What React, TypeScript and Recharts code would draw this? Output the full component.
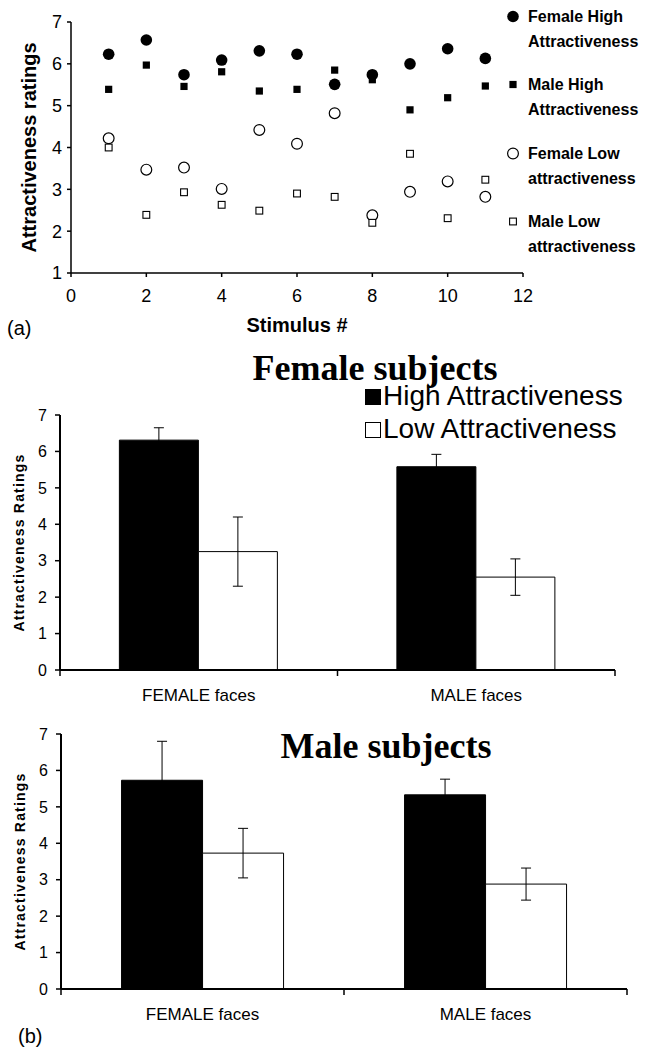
import React from 'react';
import {
  ScatterChart,
  Scatter,
  XAxis,
  YAxis,
  Legend,
  BarChart,
  Bar,
  ErrorBar,
} from 'recharts';

// ---------- (a) scatter data ----------
const stimulus = [1, 2, 3, 4, 5, 6, 7, 8, 9, 10, 11];
const femaleHigh = [6.23, 6.57, 5.74, 6.09, 6.31, 6.23, 5.51, 5.74, 6.0, 6.36, 6.13];
const maleHigh = [5.39, 5.97, 5.46, 5.81, 5.35, 5.39, 5.85, 5.62, 4.9, 5.19, 5.47];
const femaleLow = [4.22, 3.47, 3.52, 3.01, 4.42, 4.09, 4.82, 2.38, 2.94, 3.19, 2.82];
const maleLow = [4.0, 2.39, 2.93, 2.63, 2.49, 2.9, 2.82, 2.2, 3.85, 2.31, 3.23];
const scatterNames = [
  'Female High Attractiveness',
  'Male High Attractiveness',
  'Female Low attractiveness',
  'Male Low attractiveness',
];
const stimulusTicks = [0, 2, 4, 6, 8, 10, 12];
const ratingTicksA = [1, 2, 3, 4, 5, 6, 7];

// ---------- (b) bar data ----------
const faceCategories = ['FEMALE faces', 'MALE faces'];
const barNames = ['High Attractiveness', 'Low Attractiveness'];
const femaleSubjHigh = [6.31, 5.58];
const femaleSubjHighErr = [0.34, 0.34];
const femaleSubjLow = [3.25, 2.55];
const femaleSubjLowErr = [0.95, 0.5];
const maleSubjHigh = [5.73, 5.33];
const maleSubjHighErr = [1.07, 0.43];
const maleSubjLow = [3.73, 2.88];
const maleSubjLowErr = [0.68, 0.44];
const ratingTicksB = [0, 1, 2, 3, 4, 5, 6, 7];

const SANS = "'Liberation Sans', Arial, Helvetica, sans-serif";
const SERIF = "'Liberation Serif', 'Times New Roman', serif";

const scatterSeries = [femaleHigh, maleHigh, femaleLow, maleLow].map((vals) =>
  stimulus.map((s, i) => ({ x: s, y: vals[i] }))
);

const buildBarData = (hi: number[], hiErr: number[], lo: number[], loErr: number[]) =>
  faceCategories.map((face, i) => ({
    face,
    high: hi[i],
    highErr: hiErr[i],
    low: lo[i],
    lowErr: loErr[i],
  }));

const femaleSubjectsData = buildBarData(femaleSubjHigh, femaleSubjHighErr, femaleSubjLow, femaleSubjLowErr);
const maleSubjectsData = buildBarData(maleSubjHigh, maleSubjHighErr, maleSubjLow, maleSubjLowErr);

// ---------- markers ----------
const FilledCircle = (p: any) => <circle cx={p.cx} cy={p.cy} r={5.8} fill="#000" />;
const FilledSquare = (p: any) => <rect x={p.cx - 3.6} y={p.cy - 3.6} width={7.2} height={7.2} fill="#000" />;
const OpenCircle = (p: any) => (
  <circle cx={p.cx} cy={p.cy} r={5.4} fill="#fff" stroke="#000" strokeWidth={1.2} />
);
const OpenSquare = (p: any) => (
  <rect x={p.cx - 3.4} y={p.cy - 3.4} width={6.8} height={6.8} fill="#fff" stroke="#000" strokeWidth={1.1} />
);
const scatterShapes = [FilledCircle, FilledSquare, OpenCircle, OpenSquare];

const ScatterLegend = (props: any) => {
  const payload = [...(props.payload || [])].sort(
    (a: any, b: any) => scatterNames.indexOf(String(a.value)) - scatterNames.indexOf(String(b.value))
  );
  return (
    <div style={{ position: 'relative', width: 142, height: 270, fontFamily: SANS }}>
      {payload.map((entry: any) => {
        const name: string = String(entry.value);
        const idx = Math.max(0, scatterNames.indexOf(name));
        const cut = name.lastIndexOf(' ');
        const line1 = name.slice(0, cut);
        const line2 = name.slice(cut + 1);
        const Shape = scatterShapes[idx];
        return (
          <div key={name} style={{ position: 'absolute', left: 0, top: idx * 68.3, width: 142, height: 50 }}>
            <svg width={16} height={25} style={{ position: 'absolute', left: 0, top: 0 }}>
              <Shape cx={7} cy={12.5} />
            </svg>
            <div
              style={{
                position: 'absolute',
                left: 22,
                top: 0,
                fontSize: 16,
                fontWeight: 'bold',
                lineHeight: '25px',
                color: '#000',
                whiteSpace: 'nowrap',
              }}
            >
              <div>{line1}</div>
              <div>{line2}</div>
            </div>
          </div>
        );
      })}
    </div>
  );
};

const BarLegend = (props: any) => {
  const payload = [...(props.payload || [])].sort(
    (a: any, b: any) => barNames.indexOf(String(a.value)) - barNames.indexOf(String(b.value))
  );
  return (
    <div style={{ position: 'relative', width: 270, height: 70, fontFamily: SANS }}>
      {payload.map((entry: any) => {
        const idx = Math.max(0, barNames.indexOf(String(entry.value)));
        return (
          <div key={String(entry.value)} style={{ position: 'absolute', left: 0, top: idx * 33, height: 33, width: 270 }}>
            <div
              style={{
                position: 'absolute',
                left: 0,
                top: 10,
                width: 14,
                height: 14,
                background: idx === 0 ? '#000' : '#fff',
                border: '1px solid #000',
              }}
            />
            <div
              style={{
                position: 'absolute',
                left: 18,
                top: 0,
                fontSize: 28,
                lineHeight: '33px',
                color: '#000',
                whiteSpace: 'nowrap',
              }}
            >
              {entry.value}
            </div>
          </div>
        );
      })}
    </div>
  );
};

const FaceTick = (props: any) => {
  const { x, y, payload, index, visibleTicksCount } = props;
  const half = payload && typeof payload.offset === 'number' ? payload.offset : 0;
  const last = index === (visibleTicksCount ?? faceCategories.length) - 1;
  return (
    <g>
      <line x1={x - half} x2={x - half} y1={y} y2={y + 6} stroke="#000" strokeWidth={1.5} />
      {last && <line x1={x + half} x2={x + half} y1={y} y2={y + 6} stroke="#000" strokeWidth={1.5} />}
      <text
        x={x}
        y={y + 25}
        textAnchor="middle"
        dominantBaseline="central"
        fontSize={17}
        fontFamily={SANS}
        fill="#000"
      >
        {payload.value}
      </text>
    </g>
  );
};

const rotatedYLabel = (text: string, dx: number, size: number, spacing: number) => (props: any) => {
  const vb = props.viewBox || { x: 0, y: 0, width: 0, height: 0 };
  const cx = vb.x + dx;
  const cy = vb.y + vb.height / 2;
  return (
    <text
      x={cx}
      y={cy}
      transform={`rotate(-90 ${cx} ${cy})`}
      textAnchor="middle"
      dominantBaseline="central"
      fontSize={size}
      fontWeight="bold"
      fontFamily={SANS}
      letterSpacing={spacing}
      fill="#000"
    >
      {text}
    </text>
  );
};

const stimulusLabel = (props: any) => {
  const vb = props.viewBox || { x: 0, y: 0, width: 0, height: 0 };
  return (
    <text
      x={vb.x + vb.width / 2}
      y={vb.y + 52}
      textAnchor="middle"
      dominantBaseline="central"
      fontSize={20}
      fontWeight="bold"
      fontFamily={SANS}
      fill="#000"
    >
      Stimulus #
    </text>
  );
};

const BarPanel = ({ data, height, margin, yWidth, showLegend }: any) => (
  <BarChart width={648} height={height} data={data} margin={margin} barCategoryGap="21.4%" barGap={0}>
    <XAxis
      dataKey="face"
      type="category"
      height={height - margin.top - 255}
      interval={0}
      tickLine={false}
      tickSize={0}
      tickMargin={0}
      tick={<FaceTick />}
      axisLine={{ stroke: '#000', strokeWidth: 2 }}
    />
    <YAxis
      type="number"
      domain={[0, 7]}
      ticks={ratingTicksB}
      interval={0}
      width={yWidth}
      tickSize={5}
      tickMargin={8}
      axisLine={{ stroke: '#000', strokeWidth: 2 }}
      tickLine={{ stroke: '#000', strokeWidth: 1.5 }}
      tick={{ fontSize: 16, fill: '#000', fontFamily: SANS }}
      label={rotatedYLabel('Attractiveness Ratings', yWidth - 41, 14, 1.2)}
    />
    <Bar dataKey="high" name={barNames[0]} fill="#000" stroke="#000" strokeWidth={1} isAnimationActive={false}>
      <ErrorBar dataKey="highErr" width={5} stroke="#000" strokeWidth={1} direction="y" />
    </Bar>
    <Bar dataKey="low" name={barNames[1]} fill="#fff" stroke="#000" strokeWidth={1} isAnimationActive={false}>
      <ErrorBar dataKey="lowErr" width={5} stroke="#000" strokeWidth={1} direction="y" />
    </Bar>
    {showLegend && (
      <Legend
        layout="vertical"
        align="center"
        verticalAlign="middle"
        content={<BarLegend />}
        wrapperStyle={{ left: 365, top: 39, width: 270 }}
      />
    )}
  </BarChart>
);

export default function App() {
  return (
    <div
      style={{
        position: 'absolute',
        left: 0,
        top: 0,
        width: 648,
        height: 1047,
        background: '#fff',
        overflow: 'hidden',
      }}
    >
      <div style={{ position: 'absolute', left: 0, top: 0 }}>
        <ScatterChart width={648} height={340} margin={{ top: 22, right: 125, left: 0, bottom: 0 }}>
          <XAxis
            type="number"
            dataKey="x"
            domain={[0, 12]}
            ticks={stimulusTicks}
            interval={0}
            height={67}
            tickSize={4}
            tickMargin={12}
            axisLine={{ stroke: '#000', strokeWidth: 1.5 }}
            tickLine={{ stroke: '#000', strokeWidth: 1.5 }}
            tick={{ fontSize: 18, fill: '#000', fontFamily: SANS }}
            label={stimulusLabel}
          />
          <YAxis
            type="number"
            dataKey="y"
            domain={[1, 7]}
            ticks={ratingTicksA}
            interval={0}
            width={71}
            tickSize={4}
            tickMargin={5}
            axisLine={{ stroke: '#000', strokeWidth: 1.5 }}
            tickLine={{ stroke: '#000', strokeWidth: 1.5 }}
            tick={{ fontSize: 18, fill: '#000', fontFamily: SANS }}
            label={rotatedYLabel('Attractiveness ratings', 28.5, 20, 0)}
          />
          {scatterSeries.map((series, i) => (
            <Scatter
              key={scatterNames[i]}
              name={scatterNames[i]}
              data={series}
              fill="#000"
              shape={scatterShapes[i]}
              isAnimationActive={false}
            />
          ))}
          <Legend
            layout="vertical"
            align="center"
            verticalAlign="middle"
            content={<ScatterLegend />}
            wrapperStyle={{ left: 506, top: 4, width: 142 }}
          />
        </ScatterChart>
      </div>

      <div style={{ position: 'absolute', left: 0, top: 340 }}>
        <BarPanel
          data={femaleSubjectsData}
          height={380}
          margin={{ top: 75, right: 33, left: 0, bottom: 0 }}
          yWidth={60}
          showLegend={true}
        />
      </div>

      <div style={{ position: 'absolute', left: 0, top: 720 }}>
        <BarPanel
          data={maleSubjectsData}
          height={327}
          margin={{ top: 14, right: 21, left: 0, bottom: 0 }}
          yWidth={61}
          showLegend={false}
        />
      </div>

      <svg
        width={648}
        height={1047}
        style={{ position: 'absolute', left: 0, top: 0, pointerEvents: 'none' }}
      >
        <text x={7} y={328} dominantBaseline="central" fontSize={20} fontFamily={SANS} fill="#000">
          (a)
        </text>
        <text x={375} y={380} textAnchor="middle" fontSize={36} fontWeight="bold" fontFamily={SERIF} fill="#000">
          Female subjects
        </text>
        <text x={386} y={758} textAnchor="middle" fontSize={36} fontWeight="bold" fontFamily={SERIF} fill="#000">
          Male subjects
        </text>
        <text x={18} y={1036} dominantBaseline="central" fontSize={20} fontFamily={SANS} fill="#000">
          (b)
        </text>
      </svg>
    </div>
  );
}
